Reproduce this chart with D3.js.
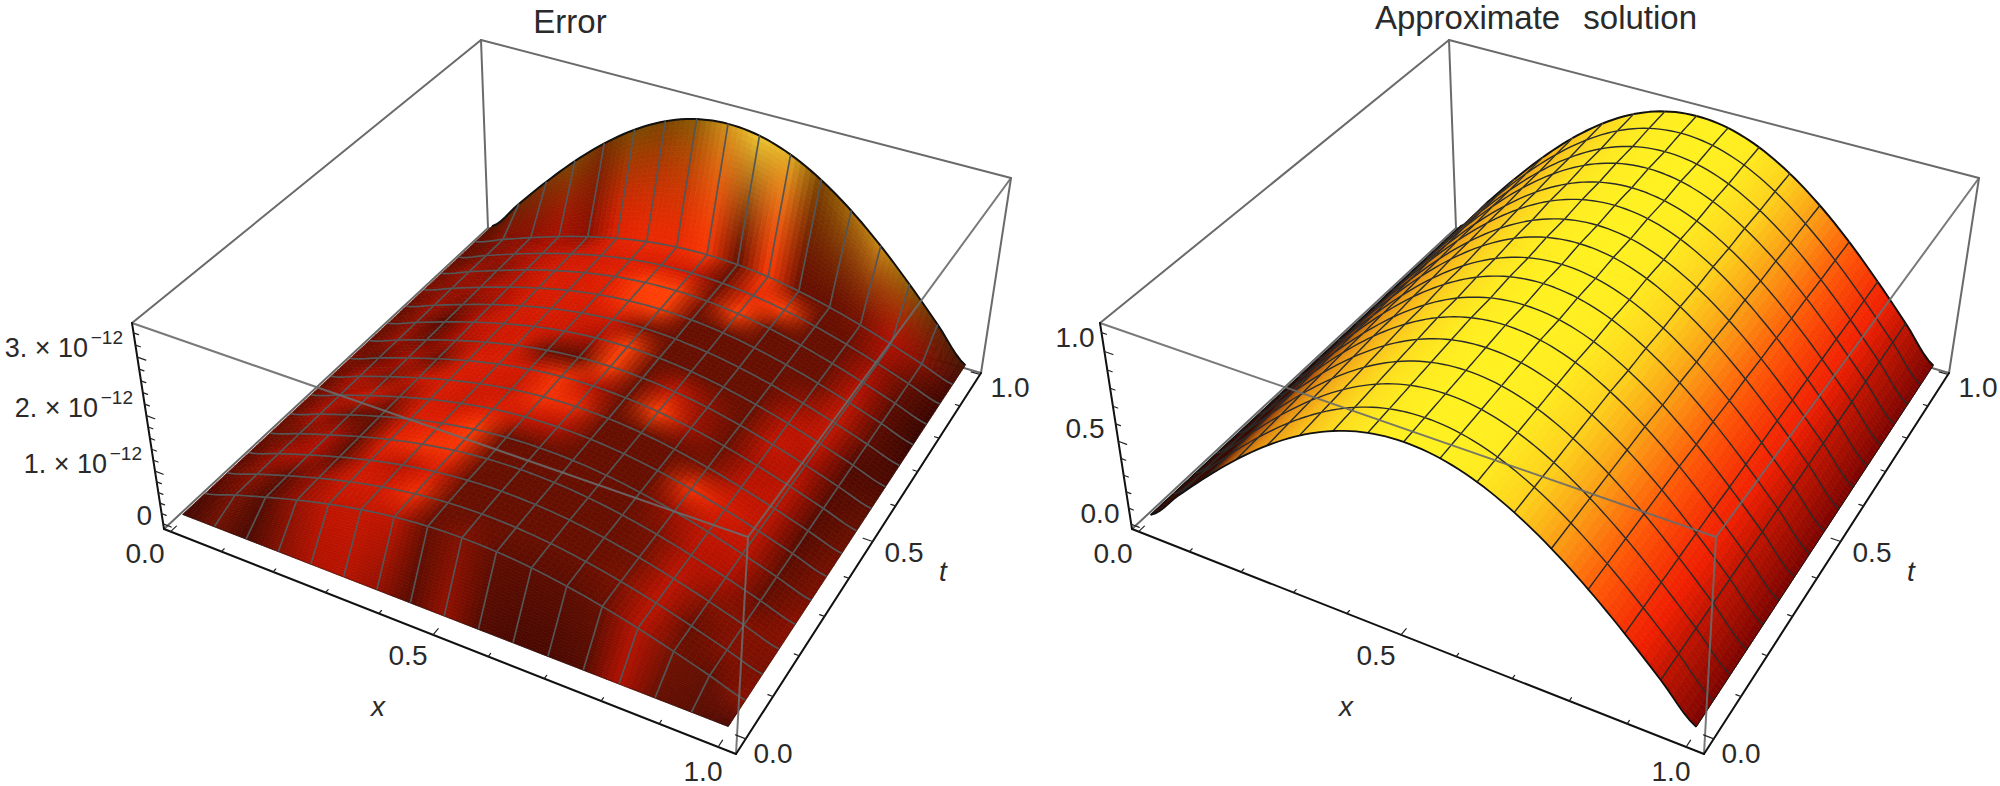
<!DOCTYPE html>
<html>
<head>
<meta charset="utf-8">
<script src="https://cdn.jsdelivr.net/npm/d3@7"></script>
<style>
  html, body { margin: 0; background: #fff; }
  text { font-family: "Liberation Sans", Arial, sans-serif; fill: #2a2a2a; }
</style>
</head>
<body>
<svg id="chart" width="2000" height="786"></svg>
<script>
// heights are profile(x) * peak(t)
var gridProfile = [0,.195,.383,.556,.707,.831,.924,.981,1,.981,.924,.831,.707,.556,.383,.195,0];
var errorPeak = [0,1.02,1.04,1.05,1.05,1.06,1.06,1.06,1.07,1.07,1.08,1.08,1.09,1.1,1.1,1.12,3.25];
var approxPeak = [.99,1,1.01,1.02,1.03,1.04,1.04,1.05,1.05,1.06,1.06,1.07,1.07,1.08,1.08,1.09,1.095];

// shading of the right surface, -1 dark left edge, 0 yellow, 1 dark right edge
var approxShade = [-1,-.85,-.62,-.42,-.28,-.16,-.07,-.02,0,0,.03,.15,.38,.58,.75,.88,1];
var approxTilt = [1.6,1.55,1.5,1.45,1.4,1.35,1.3,1.25,1.2,1.15,1.1,1.05,1,1,.95,.95,.9];

// brightness of the left surface, one row per t line, one column per x line
var errorShade = [
  [.15,.36,.2,.4,.5,.52,.44,.26,.44,.24,.2,.2,.24,.5,.32,.28,.2],
  [.2,.38,.24,.44,.55,.56,.54,.32,.4,.3,.28,.28,.32,.52,.36,.3,.42],
  [.3,.42,.28,.46,.6,.6,.72,.35,.33,.33,.33,.33,.38,.54,.32,.4,.38],
  [.25,.46,.5,.3,.6,.52,.64,.33,.33,.33,.33,.33,.36,.54,.4,.4,.4],
  [.33,.38,.5,.3,.66,.74,.74,.35,.33,.33,.33,.33,.38,.52,.5,.3,.42],
  [.3,.5,.33,.3,.62,.66,.78,.33,.33,.33,.33,.33,.46,.55,.54,.3,.38],
  [.33,.46,.58,.42,.62,.58,.64,.58,.52,.33,.33,.33,.74,.62,.54,.26,.38],
  [.3,.5,.38,.56,.62,.6,.58,.74,.7,.33,.33,.33,.38,.54,.54,.24,.36],
  [.38,.3,.5,.33,.62,.62,.6,.74,.52,.33,.8,.46,.33,.5,.54,.24,.33],
  [.3,.46,.33,.48,.58,.62,.33,.3,.8,.33,.56,.42,.33,.56,.5,.24,.28],
  [.33,.42,.25,.52,.6,.6,.58,.48,.8,.33,.33,.33,.33,.52,.55,.22,.22],
  [.3,.46,.38,.48,.6,.62,.6,.6,.38,.33,.33,.33,.33,.42,.56,.28,.16],
  [.38,.42,.46,.52,.62,.62,.64,.76,.8,.33,.33,.33,.33,.34,.54,.28,.12],
  [.33,.46,.4,.52,.62,.62,.66,.8,.8,.38,.8,.33,.33,.33,.5,.28,.12],
  [.3,.38,.46,.52,.58,.62,.64,.62,.58,.34,.7,.8,.33,.33,.46,.32,.14],
  [.3,.4,.42,.48,.42,.66,.7,.7,.76,.33,.78,.34,.33,.38,.5,.4,.18]
];
// brightness along the back edge t = 1
var errorWall = [.15,.22,.32,.42,.28,.45,.42,.55,.8,1,.9,.42,.62,.75,.55,.22,.1];

var tickLabels = ["0.0", "0.5", "1.0"];
var errorZLabels = ["3.", "2.", "1."];
var approxZLabels = ["1.0", "0.5", "0.0"];

function corners(dx) {
  return {
    p00: [164 + dx, 529], p10: [736 + dx, 754], p01: [488 + dx, 228], p11: [981 + dx, 373],
    t00: [132 + dx, 323], t10: [748 + dx, 537], t01: [481 + dx, 40], t11: [1011 + dx, 178]
  };
}

function warp(u, k) { return u / (u + k * (1 - u)); }

var svg = d3.select("#chart");

function drawPlot(opts) {
  var c = corners(opts.dx);
  var sx = d3.scaleLinear().domain([-.013, 1.03]).range([0, 1]);
  var st = d3.scaleLinear().domain([-.035, 1.005]).range([0, 1]);
  var sz = d3.scaleLinear().domain(opts.zDomain).range([0, 1]);

  function mix(a, b, f) { return [a[0] + (b[0] - a[0]) * f, a[1] + (b[1] - a[1]) * f]; }

  // u, v, w are unit box coordinates, already warped
  function unit(u, v, w) {
    var bot = mix(mix(c.p00, c.p10, u), mix(c.p01, c.p11, u), v);
    var top = mix(mix(c.t00, c.t10, u), mix(c.t01, c.t11, u), v);
    return mix(bot, top, w);
  }
  function uX(x) { return warp(sx(x), 1.09); }
  function uT(t) { return warp(st(t), .84); }
  function uZ(z) { return warp(sz(z), 1.1); }
  function project(x, t, z) { return unit(uX(x), uT(t), uZ(z)); }

  var line = d3.line();
  var g = svg.append("g");

  function seg(a, b, col, w, op) {
    g.append("path").attr("d", line([a, b])).attr("fill", "none").attr("stroke", col)
      .attr("stroke-width", w).attr("stroke-opacity", op || 1).attr("stroke-linecap", "round");
  }

  // back edges of the box
  var boxCol = "#6a6a6a";
  seg(c.p00, c.p01, boxCol, 2);
  seg(c.p01, c.p11, boxCol, 2);
  seg(c.t01, c.p01, boxCol, 2);
  seg(c.t00, c.t01, boxCol, 2);
  seg(c.t01, c.t11, boxCol, 2);
  seg(c.t11, c.p11, boxCol, 2);

  // catmull-rom through the profile, linear along t
  function profileAt(f) {
    var i = Math.min(15, Math.floor(f)), r = f - i, p = gridProfile;
    var a = p[Math.max(0, i - 1)], b = p[i], d = p[i + 1], e = p[Math.min(16, i + 2)];
    return b + .5 * r * (d - a + r * (2 * a - 5 * b + 4 * d - e + r * (3 * (b - d) + e - a)));
  }
  function height(fi, fj) {
    var j = Math.min(15, Math.floor(fj)), r = fj - j;
    return Math.max(0, profileAt(fi)) * (opts.peak[j] + (opts.peak[j + 1] - opts.peak[j]) * r);
  }
  function pt(fi, fj) { return project(fi / 16, fj / 16, height(fi, fj)); }

  var sub = 6;
  var items = [];
  for (var j = 15; j >= 0; j--) {
    // steep rows get more slices along t
    var subT = opts.steep.indexOf(j) >= 0 ? 24 : sub;
    for (var i = 0; i < 16; i++) {
      for (var b = subT - 1; b >= 0; b--) {
        for (var a = 0; a < sub; a++) {
          var i0 = i + a / sub, i1 = i + (a + 1) / sub, j0 = j + b / subT, j1 = j + (b + 1) / subT;
          var col = opts.color(i + (a + .5) / sub, j + (b + .5) / subT);
          items.push({ d: line([pt(i0, j0), pt(i1, j0), pt(i1, j1), pt(i0, j1)]) + "Z", fill: col, stroke: col, w: .7 });
        }
      }
      // back and left edges of the cell go on top of its fill
      var backLine = [], leftLine = [];
      for (var s = 0; s <= sub; s++) {
        backLine.push(pt(i + s / sub, j + 1));
        leftLine.push(pt(i, j + s / sub));
      }
      items.push({ d: line(backLine), fill: "none", stroke: j == 15 ? "#111" : opts.mesh, w: j == 15 ? 2 : opts.meshWidth });
      if (i > 0 || opts.frontWidth > 1) {
        items.push({ d: line(leftLine), fill: "none", stroke: i == 0 ? "#111" : opts.mesh, w: i == 0 ? 1.6 : opts.meshWidth });
      }
    }
  }
  g.append("g").selectAll("path").data(items).join("path")
    .attr("d", function(d) { return d.d; })
    .attr("fill", function(d) { return d.fill; })
    .attr("stroke", function(d) { return d.stroke; })
    .attr("stroke-width", function(d) { return d.w; })
    .attr("stroke-linejoin", "round");

  // open outer edges
  var frontEdge = [], rightEdge = [];
  for (var s = 0; s <= 16 * sub; s++) {
    frontEdge.push(pt(s / sub, 0));
    rightEdge.push(pt(16, s / sub));
  }
  g.append("path").attr("d", line(frontEdge)).attr("fill", "none").attr("stroke", "#111").attr("stroke-width", opts.frontWidth);
  g.append("path").attr("d", line(rightEdge)).attr("fill", "none").attr("stroke", "#111").attr("stroke-width", opts.frontWidth > 1 ? 1 : .4);

  // front edges of the box
  seg(c.t00, c.t10, boxCol, 2, .9);
  seg(c.t10, c.t11, boxCol, 2, .9);
  seg(c.t10, c.p10, boxCol, 2, .9);

  // axes
  seg(c.p00, c.p10, "#111", 2);
  seg(c.p10, c.p11, "#111", 2);
  seg(c.p00, c.t00, "#111", 2);
  d3.range(0, 11).forEach(function(n) {
    var len = n % 5 == 0 ? .018 : .009, v = n / 10;
    seg(unit(uX(v), 0, 0), unit(uX(v), len, 0), "#222", 1.2);
    seg(unit(1, uT(v), 0), unit(1 - len, uT(v), 0), "#222", 1.2);
  });
  opts.zTicks.forEach(function(d) {
    var len = d.major ? .014 : .008;
    seg(unit(0, 0, uZ(d.v)), unit(len, 0, uZ(d.v)), "#222", 1.2);
  });

  // labels
  function label(txt, x, y, size, anchor, italic) {
    return g.append("text").attr("x", x + opts.dx).attr("y", y).attr("font-size", size)
      .attr("text-anchor", anchor || "middle").attr("font-style", italic ? "italic" : "normal").text(txt);
  }
  label(tickLabels[0], 145, 563, 28);
  label(tickLabels[1], 408, 665, 28);
  label(tickLabels[2], 703, 781, 28);
  label("x", 378, 716, 28, "middle", true);
  label(tickLabels[0], 773, 763, 28);
  label(tickLabels[1], 904, 562, 28);
  label("t", 943, 581, 28, "middle", true);
  label(tickLabels[2], 1010, 397, 28);
  opts.zLabels(label);
}

var errorColor = d3.scaleLinear().domain([0, .2, .35, .5, .65, .8, .9, 1])
  .range(["#1f0000", "#4a0800", "#6a1000", "#b01000", "#e01e00", "#ff4006", "#ff7a14", "#f2c230"]);
var wallColor = d3.scaleLinear().domain([0, .3, .5, .7, 1])
  .range(["#2a0500", "#7a3000", "#7a5200", "#c07a10", "#f0c830"]);
var approxColor = d3.scaleLinear().domain([-1, -.8, -.55, -.3, 0, .2, .4, .6, .8, 1])
  .range(["#3a0a00", "#a04a0a", "#e08a10", "#f8b818", "#fff020", "#fdc81a", "#fa9a14", "#ff5a08", "#f02000", "#7a0400"]);

function nodeColor(i, j) {
  return j == 16 ? wallColor(errorWall[i]) : errorColor(errorShade[j][i]);
}

drawPlot({
  dx: 0, peak: errorPeak, zDomain: [-.1, 3.56], mesh: "#555", meshWidth: 1.7, frontWidth: .5, steep: [15, 0],
  zTicks: d3.range(0, 18).map(function(n) { return { v: n * .2, major: n % 5 == 0 }; }),
  color: function(fi, fj) {
    var i = Math.min(15, Math.floor(fi)), j = Math.min(15, Math.floor(fj)), r = fi - i, q = fj - j;
    var back = d3.interpolateRgb(nodeColor(i, j + 1), nodeColor(i + 1, j + 1))(r);
    var front = d3.interpolateRgb(nodeColor(i, j), nodeColor(i + 1, j))(r);
    return d3.interpolateRgb(front, back)(j == 15 ? Math.pow(q, 1.5) : q);
  },
  zLabels: function(label) {
    errorZLabels.forEach(function(d, n) {
      var x = [123, 133, 142][n], y = [357, 417, 473][n];
      label(d + " \u00d7 10", x - 35, y, 27, "end");
      label("\u221212", x, y - 13, 19, "end");
    });
    label("0", 152, 525, 28, "end");
  }
});
drawPlot({
  dx: 968, peak: approxPeak, zDomain: [-.03, 1.15], mesh: "#2a2a2a", meshWidth: 1.4, frontWidth: 1.8, steep: [],
  zTicks: d3.range(0, 12).map(function(n) { return { v: n * .1, major: n % 5 == 0 }; }),
  color: function(fi, fj) {
    var i = Math.min(15, Math.floor(fi)), r = fi - i;
    var j = Math.min(15, Math.floor(fj)), q = fj - j;
    var s = approxShade[i] + (approxShade[i + 1] - approxShade[i]) * r;
    var tilt = approxTilt[j] + (approxTilt[j + 1] - approxTilt[j]) * q;
    return approxColor(s < 0 ? Math.max(-1, s * tilt) : s);
  },
  zLabels: function(label) {
    label(approxZLabels[0], 107, 347, 28);
    label(approxZLabels[1], 117, 438, 28);
    label(approxZLabels[2], 132, 523, 28);
  }
});

svg.append("text").attr("x", 570).attr("y", 33).attr("font-size", 33).attr("text-anchor", "middle").text("Error");
svg.append("text").attr("x", 1536).attr("y", 29).attr("font-size", 33).attr("text-anchor", "middle")
  .attr("word-spacing", 14).text("Approximate solution");
</script>
</body>
</html>
